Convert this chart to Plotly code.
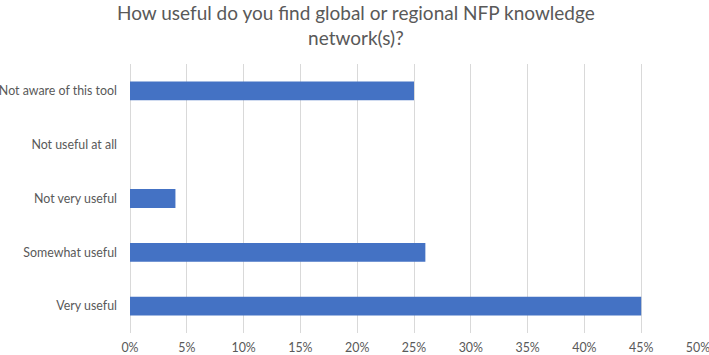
import plotly.graph_objects as go

categories = ["Very useful", "Somewhat useful", "Not very useful", "Not useful at all", "Not aware of this tool"]
values = [0.45, 0.26, 0.04, 0.0, 0.25]
tick_vals = [0, 0.05, 0.10, 0.15, 0.20, 0.25, 0.30, 0.35, 0.40, 0.45, 0.50]
tick_text = ["0%", "5%", "10%", "15%", "20%", "25%", "30%", "35%", "40%", "45%", "50%"]
title_text = "How useful do you find global or regional NFP knowledge<br>network(s)?"

fig = go.Figure(go.Bar(
    x=values, y=categories, orientation="h",
    marker=dict(color="#4472C4", line=dict(width=0)),
    width=0.35,
))

fig.update_layout(
    width=709, height=355,
    margin=dict(l=130, r=11, t=64, b=22, autoexpand=False),
    paper_bgcolor="white", plot_bgcolor="white",
    font=dict(family="Lato, sans-serif", color="#595959", size=12.4),
    showlegend=False,
    annotations=[dict(
        text=title_text, xref="paper", yref="paper",
        x=(356 - 130) / 568, y=(333 + 1) / 269,
        xanchor="center", yanchor="top", showarrow=False, align="center",
        font=dict(size=19, color="#595959", family="Lato, sans-serif"),
    )],
)
fig.update_xaxes(range=[0, 0.5], tickvals=tick_vals, ticktext=tick_text,
                 showgrid=True, gridcolor="#D9D9D9", gridwidth=1,
                 zeroline=True, zerolinecolor="#D9D9D9", zerolinewidth=1,
                 showline=False, ticks="", ticklabelstandoff=6, automargin=False,
                 ticklabeloverflow="allow", fixedrange=True)
fig.update_yaxes(categoryorder="array", categoryarray=categories,
                 showgrid=False, showline=False, ticks="", ticklabelstandoff=12,
                 automargin=False, fixedrange=True)

fig.write_html("out.html", config={"displayModeBar": False},
               post_script="document.body.style.margin='0';document.body.style.overflow='hidden';")
